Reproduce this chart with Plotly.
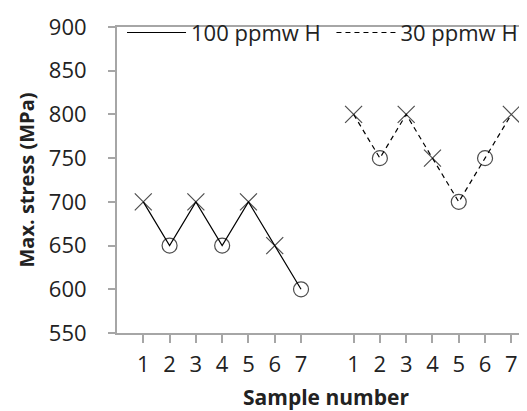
import plotly.graph_objects as go

sample_labels = ["1", "2", "3", "4", "5", "6", "7"]
pos_100 = [1, 2, 3, 4, 5, 6, 7]
pos_30 = [9, 10, 11, 12, 13, 14, 15]
stress_100 = [700, 650, 700, 650, 700, 650, 600]
stress_30 = [800, 750, 800, 750, 700, 750, 800]
symbols_100 = ["x-thin-open", "circle-open", "x-thin-open", "circle-open", "x-thin-open", "x-thin-open", "circle-open"]
symbols_30 = ["x-thin-open", "circle-open", "x-thin-open", "x-thin-open", "circle-open", "circle-open", "x-thin-open"]

FONT = "Open Sans"
AX = "#a6a6a6"
DASH = "5px,4px"

def sizes(syms):
    return [17 if s.startswith("x") else 15 for s in syms]

fig = go.Figure()
fig.add_trace(go.Scatter(x=pos_100, y=stress_100, mode="lines", name="100 ppmw H\u00a0",
                         line=dict(color="black", width=1.2)))
fig.add_trace(go.Scatter(x=pos_30, y=stress_30, mode="lines", name="30 ppmw H",
                         line=dict(color="black", width=1.2, dash=DASH)))
fig.add_trace(go.Scatter(x=pos_100, y=stress_100, mode="markers", showlegend=False,
                         marker=dict(symbol=symbols_100, size=sizes(symbols_100), color="black",
                                     line=dict(color="black", width=1.2))))
fig.add_trace(go.Scatter(x=pos_30, y=stress_30, mode="markers", showlegend=False,
                         marker=dict(symbol=symbols_30, size=sizes(symbols_30), color="black",
                                     line=dict(color="black", width=1.2))))

fig.update_layout(
    width=527, height=411,
    margin=dict(l=109, r=0, t=19, b=86),
    paper_bgcolor="white", plot_bgcolor="white",
    font=dict(family=FONT, size=22, color="#222"),
    showlegend=True,
    legend=dict(orientation="h", x=0.012, y=1.05, xanchor="left", yanchor="top",
                bgcolor="rgba(0,0,0,0)", itemwidth=59, font=dict(size=22),
                tracegroupgap=0),
    xaxis=dict(range=[0, 15.9], tickmode="array", tickvals=pos_100 + pos_30,
               ticktext=sample_labels + sample_labels, showgrid=False, zeroline=False,
               showline=True, linecolor=AX, linewidth=2, mirror=True,
               ticks="outside", ticklen=8, tickcolor=AX, tickwidth=2,
               ticklabelstandoff=3,
               title=dict(text="<b>Sample number</b>", standoff=13, font=dict(size=21))),
    yaxis=dict(range=[550, 900], tickvals=[550, 600, 650, 700, 750, 800, 850, 900],
               showgrid=False, zeroline=False, showline=True, linecolor=AX, linewidth=2,
               ticks="outside", ticklen=7, tickcolor=AX, tickwidth=2,
               ticklabelstandoff=17,
               title=dict(text="<b>Max. stress (MPa)</b>", standoff=9, font=dict(size=20))),
)

fig.write_html("out.html")
